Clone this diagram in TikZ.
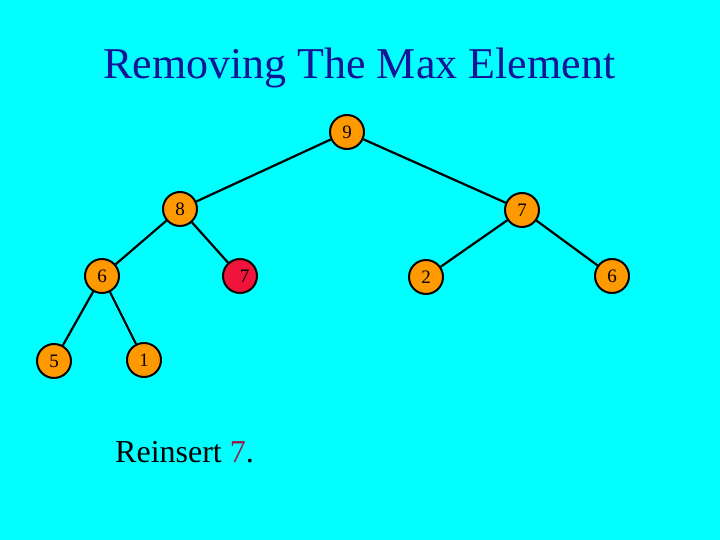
\documentclass[tikz,border=0pt]{standalone}
\usepackage{fontspec}
\setmainfont{Liberation Serif}
\definecolor{bgcyan}{RGB}{0,255,255}
\definecolor{nodeorange}{RGB}{255,153,0}
\definecolor{nodered}{RGB}{240,20,60}
\definecolor{titleblue}{RGB}{20,20,150}
\definecolor{darkred}{RGB}{153,30,80}
\tikzset{
  heapnode/.style={circle, draw=black, line width=2pt, fill=nodeorange,
    minimum size=34pt, inner sep=0pt, font=\fontsize{19}{19}\selectfont},
  rednode/.style={heapnode, fill=nodered},
  edge/.style={draw=black, line width=2.2pt}
}
\begin{document}
\begin{tikzpicture}[x=1pt,y=-1pt]
\fill[bgcyan] (0,0) rectangle (720,540);
\useasboundingbox (0,0) rectangle (720,540);
\node[anchor=base west, inner sep=0pt, text=titleblue, font=\fontsize{44}{44}\selectfont] (title) at (103,79) {Removing The Max Element};
\node[heapnode] (n9) at (347,132) {9};
\node[heapnode] (n8) at (180,209) {8};
\node[heapnode] (n7r) at (522,210) {7};
\node[heapnode] (n6) at (102,276) {6};
\node[rednode] (n7) at (240,276) {\hspace{9pt}7};
\node[heapnode] (n2) at (426,277) {2};
\node[heapnode] (n6r) at (612,276) {6};
\node[heapnode] (n5) at (54,361) {5};
\node[heapnode] (n1) at (144,360) {1};
\draw[edge] (n9) -- (n8);
\draw[edge] (n9) -- (n7r);
\draw[edge] (n8) -- (n6);
\draw[edge] (n8) -- (n7);
\draw[edge] (n7r) -- (n2);
\draw[edge] (n7r) -- (n6r);
\draw[edge] (n6) -- (n5);
\draw[edge] (n6) -- (n1);
\node[anchor=base west, inner sep=0pt, font=\fontsize{32}{32}\selectfont] (reinsert) at (115,462) {Reinsert \textcolor{darkred}{7}.};
\end{tikzpicture}
\end{document}
